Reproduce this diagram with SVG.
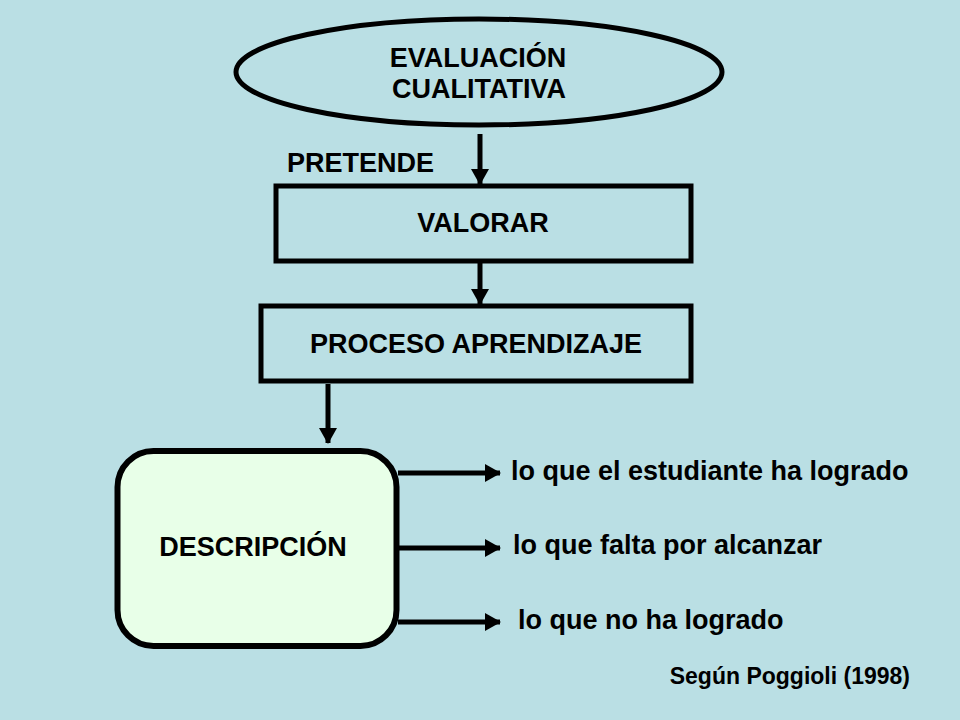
<svg xmlns="http://www.w3.org/2000/svg" width="960" height="720" viewBox="0 0 960 720">
<style>
.t{font-family:"Liberation Sans",Arial,sans-serif;font-weight:bold;fill:#000;font-size:27px;}
.s{stroke:#000;stroke-width:5;}
.c{stroke:#000;stroke-width:5;fill:none;}
</style>
<defs>
<marker id="ah" markerUnits="userSpaceOnUse" markerWidth="16" markerHeight="18" refX="15" refY="9" orient="auto">
<path d="M0,0 L16,9 L0,18 Z" fill="#000"/>
</marker>
</defs>
<rect width="960" height="720" fill="#BADFE4"/>
<g id="evaluacion">
<ellipse cx="479" cy="72" rx="243" ry="53" fill="#BADFE4" class="s"/>
<text class="t" x="478" y="67" text-anchor="middle">EVALUACIÓN</text>
<text class="t" x="479" y="98" text-anchor="middle">CUALITATIVA</text>
</g>
<g id="pretende">
<text class="t" x="287" y="172">PRETENDE</text>
</g>
<g id="valorar">
<rect x="276" y="186" width="415" height="75" fill="#BADFE4" class="s"/>
<text class="t" x="483" y="232" text-anchor="middle">VALORAR</text>
</g>
<g id="proceso">
<rect x="261" y="306" width="430" height="75" fill="#BADFE4" class="s"/>
<text class="t" x="476" y="353" text-anchor="middle">PROCESO APRENDIZAJE</text>
</g>
<g id="descripcion">
<rect x="117.5" y="451" width="279" height="195" rx="36" fill="#E8FFE8" stroke="#000" stroke-width="6"/>
<text class="t" x="253" y="556" text-anchor="middle">DESCRIPCIÓN</text>
</g>
<g id="items">
<text class="t" x="511" y="480">lo que el estudiante ha logrado</text>
<text class="t" x="513" y="554">lo que falta por alcanzar</text>
<text class="t" x="518" y="629">lo que no ha logrado</text>
<text class="t" x="910" y="684" font-size="23" text-anchor="end" style="font-size:23px">Según Poggioli (1998)</text>
</g>
<g id="connectors">
<line x1="480" y1="134" x2="480" y2="184" class="c" marker-end="url(#ah)"/>
<line x1="480" y1="263" x2="480" y2="304" class="c" marker-end="url(#ah)"/>
<line x1="328" y1="384" x2="328" y2="443" class="c" marker-end="url(#ah)"/>
<line x1="398" y1="473" x2="500" y2="473" class="c" marker-end="url(#ah)"/>
<line x1="398" y1="548" x2="500" y2="548" class="c" marker-end="url(#ah)"/>
<line x1="398" y1="622" x2="500" y2="622" class="c" marker-end="url(#ah)"/>
</g>
</svg>
